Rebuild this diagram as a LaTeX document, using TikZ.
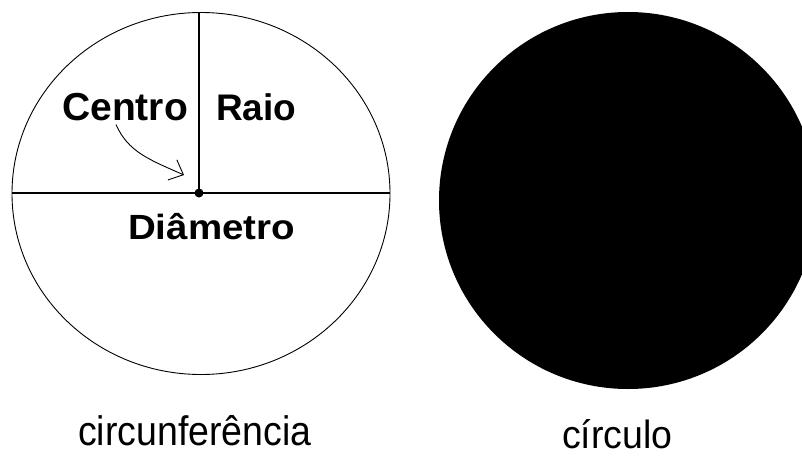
\documentclass[tikz,border=0pt]{standalone}
\usepackage{fontspec}
\setmainfont{Liberation Sans}
\usetikzlibrary{arrows.meta}

\newcommand{\alto}[2][1.1]{\scalebox{1}[#1]{#2}}

\tikzset{
  rotulo/.style={anchor=base west, inner sep=0pt, font=\fontsize{39}{45}\selectfont\bfseries},
  nome/.style={anchor=base west, inner sep=0pt, font=\fontsize{38}{44}\selectfont}
}

\begin{document}
\begin{tikzpicture}[x=1pt, y=-1pt]
			\useasboundingbox (0,0) rectangle (802,455);
			\clip (0,0) rectangle (802,455);

			% Definir el centro y los extremos
			\coordinate (centro) at (199, 193);     % Centro de la circunferencia
			\coordinate (topo) at (199, 12.5);      % Extremo del raio
			\coordinate (esq) at (12, 193);         % Extremo izquierdo del diametro
			\coordinate (dir) at (390, 193);        % Extremo derecho del diametro
			\coordinate (ponta) at (184, 175);      % Punta de la flecha

			% Dibujar la circunferencia y el circulo
			\draw[line width=0.9pt] (201, 193.5) ellipse (189 and 181);
			\fill[black] (628, 200.5) ellipse (189 and 188.5);

			% Dibujar el diametro y el raio
			\draw[line width=1.5pt] (esq) -- (dir);
			\draw[line width=1.5pt] (centro) -- (topo);
			\fill[black] (centro) circle (4.5);

			% Los textos
			\node[rotulo] (tcentro) at (62, 120) {Centro};
			\node[rotulo, font=\fontsize{37}{43}\selectfont\bfseries] (traio) at (216, 120) {Raio};
			\node[rotulo, font=\fontsize{35}{41}\selectfont\bfseries] (tdiametro) at (128, 239) {\scalebox{1.1}[1]{Diâmetro}};
			\node[nome, font=\fontsize{37.5}{43}\selectfont] (tcircunf) at (78, 445) {\alto{circunferência}};
			\node[nome, font=\fontsize{37.5}{43}\selectfont] (tcirculo) at (562, 448) {\alto[1.05]{círculo}};

			% La flecha del centro
			\draw[line width=0.9pt, -{Straight Barb[length=12pt, width=22pt]}]
			  ([xshift=-9pt, yshift=-4pt]tcentro.south) .. controls (128, 152) and (150, 160) .. (ponta);

		\end{tikzpicture}
\end{document}
